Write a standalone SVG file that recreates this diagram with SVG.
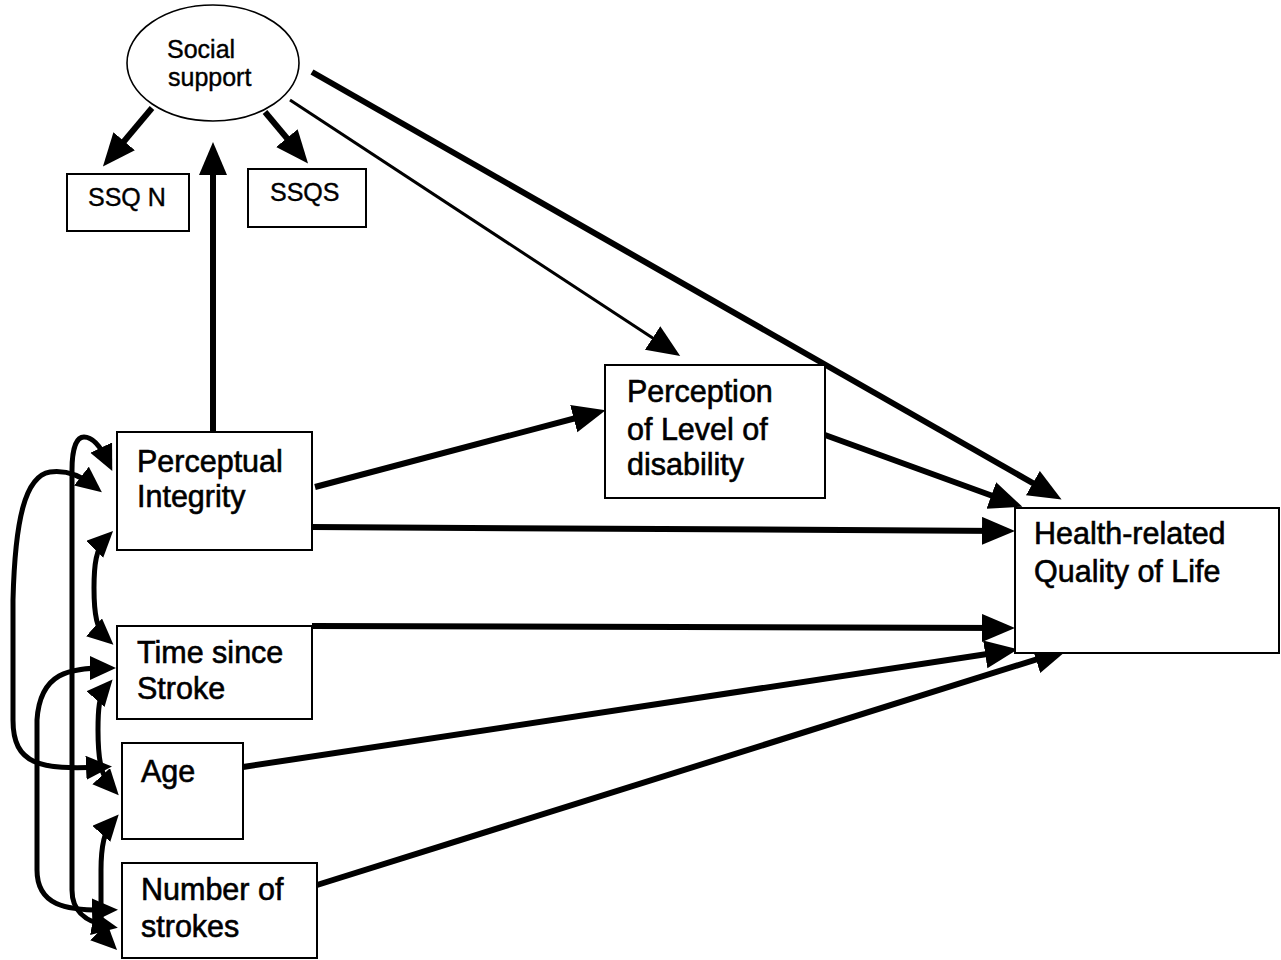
<svg xmlns="http://www.w3.org/2000/svg" width="1281" height="960" viewBox="0 0 1281 960">
  <style>
    .box { fill: #fff; stroke: #000; stroke-width: 2; }
    .lbl { font-family: "Liberation Sans", Arial, sans-serif; font-size: 30.5px; fill: #000; stroke: #000; stroke-width: 0.6; }
    .sm { font-family: "Liberation Sans", Arial, sans-serif; font-size: 25px; fill: #000; stroke: #000; stroke-width: 0.4; }
    .path { fill: none; stroke: #000; stroke-width: 6; marker-end: url(#head); }
    .thin { fill: none; stroke: #000; stroke-width: 3; marker-end: url(#head); }
    .cov { fill: none; stroke: #000; stroke-width: 5; marker-start: url(#small); marker-end: url(#small); }
  </style>
  <defs>
    <marker id="head" markerUnits="userSpaceOnUse" markerWidth="36" markerHeight="30" refX="22" refY="14" orient="auto">
      <path d="M0,0 L33,14 L0,28 z" fill="#000"/>
    </marker>
    <marker id="small" markerUnits="userSpaceOnUse" markerWidth="28" markerHeight="26" refX="16" refY="12" orient="auto-start-reverse">
      <path d="M0,0 L26,12 L0,24 z" fill="#000"/>
    </marker>
  </defs>
  <rect width="1281" height="960" fill="#fff"/>

  <!-- directed paths and correlations -->
  <g id="connectors">
    <path class="path" d="M152,108 L110,158"/>
    <path class="path" d="M265,112 L301,155"/>
    <path class="path" d="M213,432 L213,153"/>
    <path class="thin" d="M290,100 L671,350"/>
    <path class="path" d="M312,72 L1052,494"/>
    <path class="path" d="M825,435 L1012,503"/>
    <path class="path" d="M315,487 L595,413"/>
    <path class="path" d="M312,527 L1004,531"/>
    <path class="path" d="M312,626 L1004,628"/>
    <path class="path" d="M243,767 L1007,651"/>
    <path class="path" d="M317,885 L1057,653"/>

    <!-- two-headed covariance arcs on the left -->
    <path class="cov" d="M106,538 C96,548 94,565 94,588 C94,615 97,630 106,638"/>
    <path class="cov" d="M106,687 C99,695 98,710 98,730 C98,760 101,776 112,788"/>
    <path class="cov" d="M112,822 C103,832 101,850 101,870 L101,915 C101,930 103,936 110,943"/>
    <path class="cov" d="M108,462 C100,445 92,437 84,437 C76,437 72,450 72,470 L72,890 C72,912 86,922 108,926"/>
    <path class="cov" d="M106,668 C70,668 40,672 37,720 L37,870 C37,905 65,911 108,910"/>
    <path class="cov" d="M94,486 C80,475 65,470 50,472 C25,476 15,520 13,600 L13,720 C13,765 40,770 102,767"/>
  </g>

  <g id="social-support">
    <ellipse class="box" cx="213" cy="63" rx="86" ry="58" style="stroke-width:1.6"/>
    <text class="sm" x="167" y="58">Social</text>
    <text class="sm" x="168" y="86">support</text>
  </g>
  <g id="ssq-n">
    <rect class="box" x="67" y="174" width="122" height="57"/>
    <text class="sm" x="88" y="206">SSQ N</text>
  </g>
  <g id="ssqs">
    <rect class="box" x="248" y="169" width="118" height="58"/>
    <text class="sm" x="270" y="201">SSQS</text>
  </g>
  <g id="perceptual-integrity">
    <rect class="box" x="117" y="432" width="195" height="118"/>
    <text class="lbl" x="137" y="472">Perceptual</text>
    <text class="lbl" x="137" y="507">Integrity</text>
  </g>
  <g id="perceived-disability">
    <rect class="box" x="605" y="365" width="220" height="133"/>
    <text class="lbl" x="627" y="402">Perception</text>
    <text class="lbl" x="627" y="440">of Level of</text>
    <text class="lbl" x="627" y="475">disability</text>
  </g>
  <g id="hrql">
    <rect class="box" x="1015" y="508" width="264" height="145"/>
    <text class="lbl" x="1034" y="544">Health-related</text>
    <text class="lbl" x="1034" y="582">Quality of Life</text>
  </g>
  <g id="time-since-stroke">
    <rect class="box" x="117" y="626" width="195" height="93"/>
    <text class="lbl" x="137" y="663">Time since</text>
    <text class="lbl" x="137" y="699">Stroke</text>
  </g>
  <g id="age">
    <rect class="box" x="122" y="743" width="121" height="96"/>
    <text class="lbl" x="141" y="782">Age</text>
  </g>
  <g id="number-of-strokes">
    <rect class="box" x="122" y="863" width="195" height="95"/>
    <text class="lbl" x="141" y="900">Number of</text>
    <text class="lbl" x="141" y="937">strokes</text>
  </g>
</svg>
